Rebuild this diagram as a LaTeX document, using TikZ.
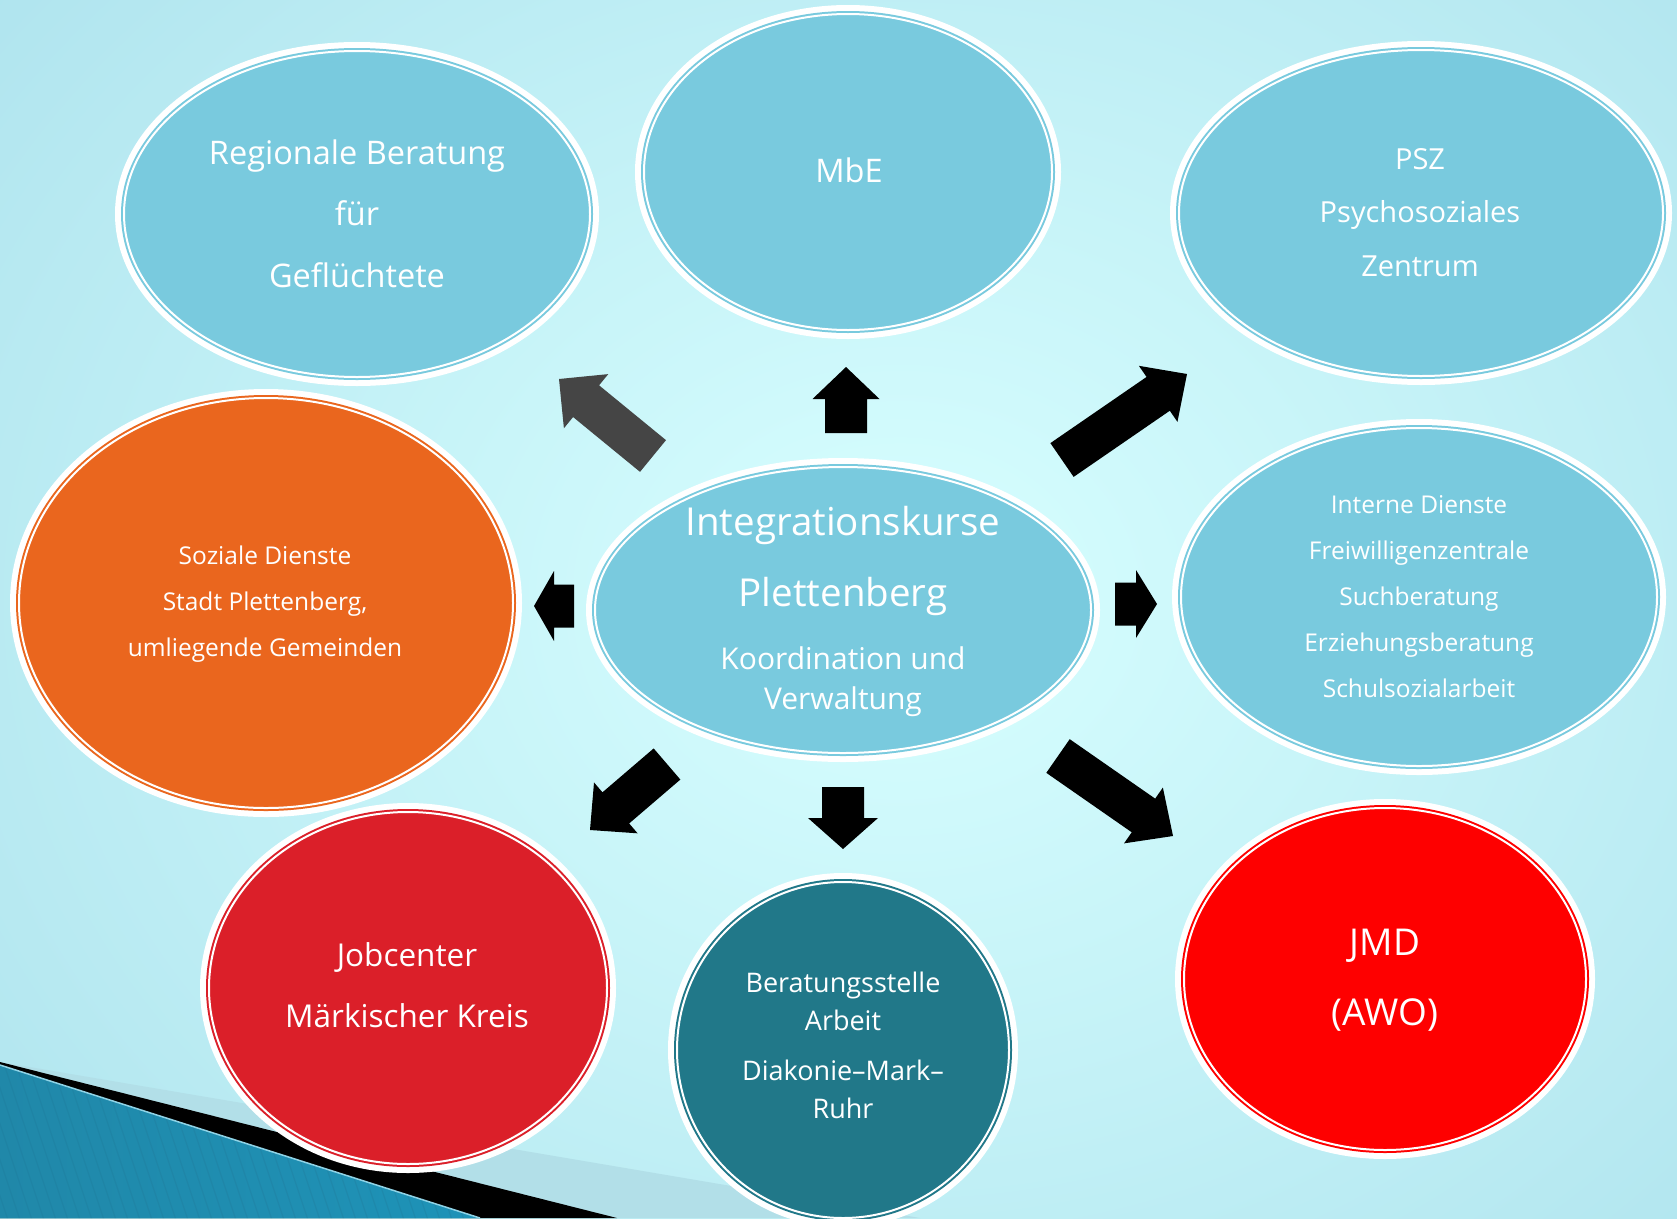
\documentclass[tikz,border=0pt]{standalone}
\usepackage{fontspec}
\setmainfont{Open Sans}
\usetikzlibrary{shapes.geometric,calc}
\definecolor{bgin}{HTML}{D8FFFF}
\definecolor{bgout}{HTML}{A8DFEB}
\definecolor{lband}{HTML}{B2DFE8}
\definecolor{bluel}{HTML}{2088A9}
\definecolor{bluem}{HTML}{5EBFE2}
\definecolor{bluer}{HTML}{1E93B8}
\definecolor{stripec}{HTML}{1F7898}
\definecolor{edgec}{HTML}{8FD3E6}
\definecolor{lb}{HTML}{79CADE}
\definecolor{orng}{HTML}{EA661E}
\definecolor{jred}{HTML}{DB1F29}
\definecolor{teal}{HTML}{217889}
\definecolor{jmdred}{HTML}{FE0000}
\definecolor{darkarrow}{HTML}{454545}
\tikzset{
  bubout/.style={ellipse, inner sep=0pt, outer sep=0pt, fill=white},
  bubin/.style={ellipse, inner sep=0pt, outer sep=0pt, fill=#1},
  txt/.style={text=white, anchor=base, inner sep=0pt, outer sep=0pt},
  stripe/.style={stripec, opacity=.3, line width=1.2pt}
}
\newcommand{\bubble}[6]{%
  \node[bubout, minimum width={2*#4}, minimum height={2*#5}] (#1) at (#2,#3) {};
  \node[bubin=#6, minimum width={2*#4-12}, minimum height={2*#5-12}] (#1in) at (#1.center) {};
  \draw[white, line width=2pt] (#1.center) ellipse [x radius={(#4-9)*1pt}, y radius={(#5-9)*1pt}];
}
\newcommand{\blockarrow}[6]{%
  \coordinate (hb) at ($(#2)!#5pt!(#1)$);
  \fill[#6] ($(#1)!#3pt!90:(#2)$) -- ($(hb)!#3pt!90:(#2)$) -- ($(hb)!#4pt!90:(#2)$) -- (#2)
    -- ($(hb)!#4pt!-90:(#2)$) -- ($(hb)!#3pt!-90:(#2)$) -- ($(#1)!#3pt!-90:(#2)$) -- cycle;
}
\newcommand{\lbl}[5]{\node[txt, font=\fontsize{#4}{#4}\selectfont] (#1) at (#2,#3) {#5};}
\begin{document}
\begin{tikzpicture}[x=1pt,y=-1pt]
\path[use as bounding box] (0,0) rectangle (1677,1218);
\clip (0,0) rectangle (1677,1218);
% background
\shade[inner color=bgin, outer color=bgout] (-500,-560) rectangle (2300,1760);
% bottom-left decoration
\fill[lband] (0,1062) -- (920,1218) -- (0,1218) -- cycle;
\fill[black] (0,1062) -- (617,1218) -- (0,1218) -- cycle;
\begin{scope}
  \clip (0,1065) -- (480,1218) -- (0,1218) -- cycle;
  \shade[left color=bluel, middle color=bluem, right color=bluer] (0,1040) rectangle (490,1218);
  \foreach \i in {-100,-88,...,500} \draw[stripe] (\i,1040) -- ++(60,180);
\end{scope}
\draw[edgec, line width=1.5pt] (0,1065) -- (480,1218);
% bubbles
\bubble{reg}{357}{214}{242}{172}{lb}
\bubble{mbe}{848}{172}{213}{167}{lb}
\bubble{psz}{1421}{213}{251}{172}{lb}
\bubble{ctr}{843}{610}{257}{152}{lb}
\bubble{intd}{1419}{597}{247}{178}{lb}
\bubble{soz}{266}{603}{256}{214}{orng}
\bubble{job}{408}{988}{208}{185}{jred}
\bubble{ber}{843}{1050}{175}{177}{teal}
\bubble{jmd}{1385}{979}{210}{180}{jmdred}
% arrows
\coordinate (ulT) at (653,456);  \coordinate (ulH) at (559,379);
\coordinate (urT) at (1062,460); \coordinate (urH) at (1187,374);
\coordinate (uT) at (846,433);   \coordinate (uH) at (846,367);
\coordinate (lT) at (574,606);   \coordinate (lH) at (534,606);
\coordinate (rT) at (1115,604);  \coordinate (rH) at (1157,604);
\coordinate (dlT) at (667,764);  \coordinate (dlH) at (590,830);
\coordinate (dT) at (843,787);   \coordinate (dH) at (843,849);
\coordinate (drT) at (1058,756); \coordinate (drH) at (1173,836);
\blockarrow{ulT}{ulH}{20.5}{35}{35}{darkarrow}
\blockarrow{urT}{urH}{20.5}{34}{35}{black}
\blockarrow{uT}{uH}{21}{33.5}{32}{black}
\blockarrow{lT}{lH}{21.5}{35}{20}{black}
\blockarrow{rT}{rH}{21.5}{34}{21}{black}
\blockarrow{dlT}{dlH}{20.5}{33.5}{34}{black}
\blockarrow{dT}{dH}{21}{35}{31}{black}
\blockarrow{drT}{drH}{20.5}{34}{36}{black}
% texts
\lbl{regA}{357}{164}{32.5}{Regionale Beratung}
\lbl{regB}{357}{225}{32.5}{für}
\lbl{regC}{357}{287}{32.5}{Geflüchtete}
\lbl{mbeA}{849}{182}{32.5}{MbE}
\lbl{pszA}{1420}{169}{29}{PSZ}
\lbl{pszB}{1420}{222}{29}{Psychosoziales}
\lbl{pszC}{1420}{276}{29}{Zentrum}
\lbl{ctrA}{843}{535}{38.5}{Integrationskurse}
\lbl{ctrB}{843}{606}{38.5}{Plettenberg}
\lbl{ctrC}{843}{669}{30}{Koordination und}
\lbl{ctrD}{843}{709}{30}{Verwaltung}
\lbl{intA}{1419}{513}{24.5}{Interne Dienste}
\lbl{intB}{1419}{559}{24.5}{Freiwilligenzentrale}
\lbl{intC}{1419}{605}{24.5}{Suchberatung}
\lbl{intD}{1419}{651}{24.5}{Erziehungsberatung}
\lbl{intE}{1419}{697}{24.5}{Schulsozialarbeit}
\lbl{sozA}{265}{564}{24.5}{Soziale Dienste}
\lbl{sozB}{265}{610}{24.5}{Stadt Plettenberg,}
\lbl{sozC}{265}{656}{24.5}{umliegende Gemeinden}
\lbl{jobA}{407}{966}{31.5}{Jobcenter}
\lbl{jobB}{407}{1027}{31.5}{Märkischer Kreis}
\lbl{berA}{843}{992}{27}{Beratungsstelle}
\lbl{berB}{843}{1030}{27}{Arbeit}
\lbl{berC}{843}{1080}{27}{Diakonie–Mark–}
\lbl{berD}{843}{1118}{27}{Ruhr}
\lbl{jmdA}{1385}{955}{37}{JMD}
\lbl{jmdB}{1385}{1025}{37}{(AWO)}
\end{tikzpicture}
\end{document}
